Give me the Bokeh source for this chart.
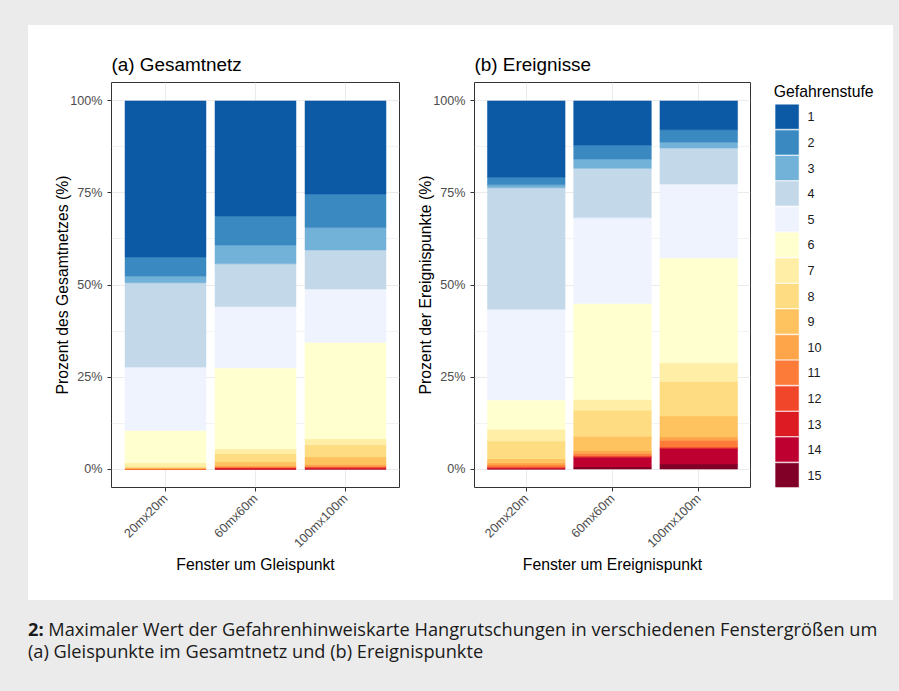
import math
from bokeh.plotting import figure
from bokeh.models import (ColumnDataSource, Range1d, FixedTicker, Div, Spacer,
                          GlobalInlineStyleSheet)
from bokeh.core.properties import value
from bokeh.layouts import row, column
from bokeh.embed import file_html
from bokeh.resources import INLINE

# ---------------- data ----------------
categories = ["20mx20m", "60mx60m", "100mx100m"]
levels = [str(i) for i in range(1, 16)]
level_colors = ["#0c5aa5", "#3a89c1", "#73b2d8", "#c3d9e9", "#eff3fe",
                "#ffffcf", "#ffeea6", "#fedc82", "#fec25f", "#fea449",
                "#fd7b39", "#f2462b", "#dd1b22", "#be0030", "#800028"]
legend_title = "Gefahrenstufe"

# share (%) of each Gefahrenstufe 1..15, panel (a) Gesamtnetz
net_20 = [42.4, 5.2, 1.8, 22.9, 17.2, 8.8, 1.0, 0.3, 0.2, 0.2, 0.0, 0.0, 0.0, 0.0, 0.0]
net_60 = [31.25, 7.9, 5.1, 11.6, 16.7, 22.0, 1.2, 2.3, 1.0, 0.3, 0.2, 0.15, 0.3, 0.0, 0.0]
net_100 = [25.3, 9.1, 6.1, 10.6, 14.5, 26.2, 1.6, 3.3, 2.0, 0.5, 0.2, 0.2, 0.3, 0.1, 0.0]
# panel (b) Ereignisse
evt_20 = [20.7, 2.1, 0.8, 33.0, 24.65, 7.95, 3.2, 4.8, 1.1, 0.6, 0.5, 0.2, 0.2, 0.2, 0.0]
evt_60 = [12.0, 3.8, 2.5, 13.4, 23.3, 26.1, 2.9, 7.1, 4.0, 0.7, 0.6, 0.2, 0.2, 2.6, 0.6]
evt_100 = [7.8, 3.4, 1.6, 9.8, 20.1, 28.5, 5.0, 9.4, 5.7, 0.9, 1.8, 0.2, 0.2, 4.2, 1.4]

y_ticks = [0, 25, 50, 75, 100]
y_tick_labels = ["0%", "25%", "50%", "75%", "100%"]

FONT = "Liberation Sans"


def make_source(cols):
    data = {"x": [i + 1 for i in range(len(categories))]}
    for j, lv in enumerate(levels):
        data[lv] = [c[j] for c in cols]
    return ColumnDataSource(data)


def make_fig(title, ylabel, xlabel, width, left, right, cols):
    p = figure(width=width, height=575, x_range=Range1d(0.4, 3.6), y_range=Range1d(-5, 105),
               output_backend="svg", toolbar_location=None, title=title,
               min_border_left=left, min_border_right=right,
               min_border_top=57, min_border_bottom=113)
    p.border_fill_color = "white"
    p.background_fill_color = "white"
    p.outline_line_color = "#333333"
    p.outline_line_width = 1

    src = make_source(cols)
    stack = levels[::-1]
    p.vbar_stack(stack, x="x", width=0.9, source=src,
                 color=[level_colors[int(s) - 1] for s in stack], line_width=0.5)

    p.title.text_font = FONT
    p.title.text_font_size = "18.9px"
    p.title.text_font_style = "normal"
    p.title.text_color = "black"
    p.title.align = "left"
    p.title.standoff = 15

    p.xaxis.ticker = FixedTicker(ticks=[i + 1 for i in range(len(categories))])
    p.xaxis.major_label_overrides = {i + 1: c for i, c in enumerate(categories)}
    p.xaxis.major_label_orientation = math.pi / 4
    minors = [(a + b) / 2 for a, b in zip(y_ticks, y_ticks[1:])]
    p.yaxis.ticker = FixedTicker(ticks=y_ticks, minor_ticks=minors)
    p.yaxis.major_label_overrides = {t: l for t, l in zip(y_ticks, y_tick_labels)}
    p.xaxis.axis_label = xlabel
    p.yaxis.axis_label = ylabel
    for ax in (p.xaxis[0], p.yaxis[0]):
        ax.axis_line_color = None
        ax.major_tick_line_color = "#333333"
        ax.major_tick_line_width = 1
        ax.major_tick_out = 4
        ax.major_tick_in = 0
        ax.minor_tick_line_color = None
        ax.major_label_text_font = FONT
        ax.major_label_text_font_size = "12.6px"
        ax.major_label_text_color = "#4d4d4d"
        ax.axis_label_text_font = FONT
        ax.axis_label_text_font_size = "15.75px"
        ax.axis_label_text_font_style = "normal"
        ax.axis_label_text_color = "black"
    p.xaxis.major_label_standoff = 5
    p.xaxis.axis_label_standoff = -2
    p.yaxis.major_label_standoff = 5
    p.yaxis.axis_label_standoff = -4
    p.xgrid.grid_line_color = "#ebebeb"
    p.ygrid.grid_line_color = "#ebebeb"
    p.ygrid.minor_grid_line_color = "#ebebeb"
    p.ygrid.minor_grid_line_width = 0.6
    return p


p_a = make_fig("(a) Gesamtnetz", "Prozent des Gesamtnetzes (%)", "Fenster um Gleispunkt",
               377, 83, 6, [net_20, net_60, net_100])
p_b = make_fig("(b) Ereignisse", "Prozent der Ereignispunkte (%)", "Fenster um Ereignispunkt",
               347, 69, 2, [evt_20, evt_60, evt_100])

# ---------------- legend panel: one row per Gefahrenstufe ----------------
# x in pixels of the panel, y in legend rows (row k = Gefahrenstufe k, row 0 = title)
p_leg = figure(width=141, height=575, x_axis_type=None, y_axis_type=None,
               x_range=Range1d(0, 141), y_range=Range1d(15.48, -0.34),
               output_backend="svg", toolbar_location=None,
               min_border_left=0, min_border_right=0, min_border_top=0, min_border_bottom=0)
p_leg.border_fill_color = "white"
p_leg.background_fill_color = "white"
p_leg.outline_line_color = None
p_leg.grid.visible = False

leg_src = ColumnDataSource(dict(row=[int(l) for l in levels], label=levels, color=level_colors,
                                key_x=[34.6] * len(levels), label_x=[55.0] * len(levels)))
p_leg.rect(x="key_x", y="row", width=23, height=24, width_units="screen", height_units="screen",
           fill_color="color", line_color="color", line_width=0.5, source=leg_src)
p_leg.text(x="label_x", y="row", text="label", source=leg_src, text_font=value(FONT),
           text_font_size="12.6px", text_color="#1a1a1a", text_baseline="middle", text_align="left")
p_leg.text(x=[21.3], y=[0], text=[legend_title], text_font=value(FONT), text_font_size="15.75px",
           text_color="black", text_baseline="middle", text_align="left")

caption = Div(text="<b>2:</b> Maximaler Wert der Gefahrenhinweiskarte Hangrutschungen in verschiedenen "
                   "Fenstergrößen um<br>(a) Gleispunkte im Gesamtnetz und (b) Ereignispunkte",
              width=868, height=60,
              styles={"font-family": "Open Sans", "font-size": "18.2px", "line-height": "22px",
                      "color": "#1a1a1a"})

page = column(
    Spacer(height=25),
    row(Spacer(width=28, height=575),
        row(p_a, p_b, p_leg, styles={"background-color": "white"})),
    Spacer(height=13),
    row(Spacer(width=23, height=60), caption),
    stylesheets=[GlobalInlineStyleSheet(css="html, body { background: #ebebeb; }")],
)

open("out.html", "w").write(file_html(page, INLINE))
